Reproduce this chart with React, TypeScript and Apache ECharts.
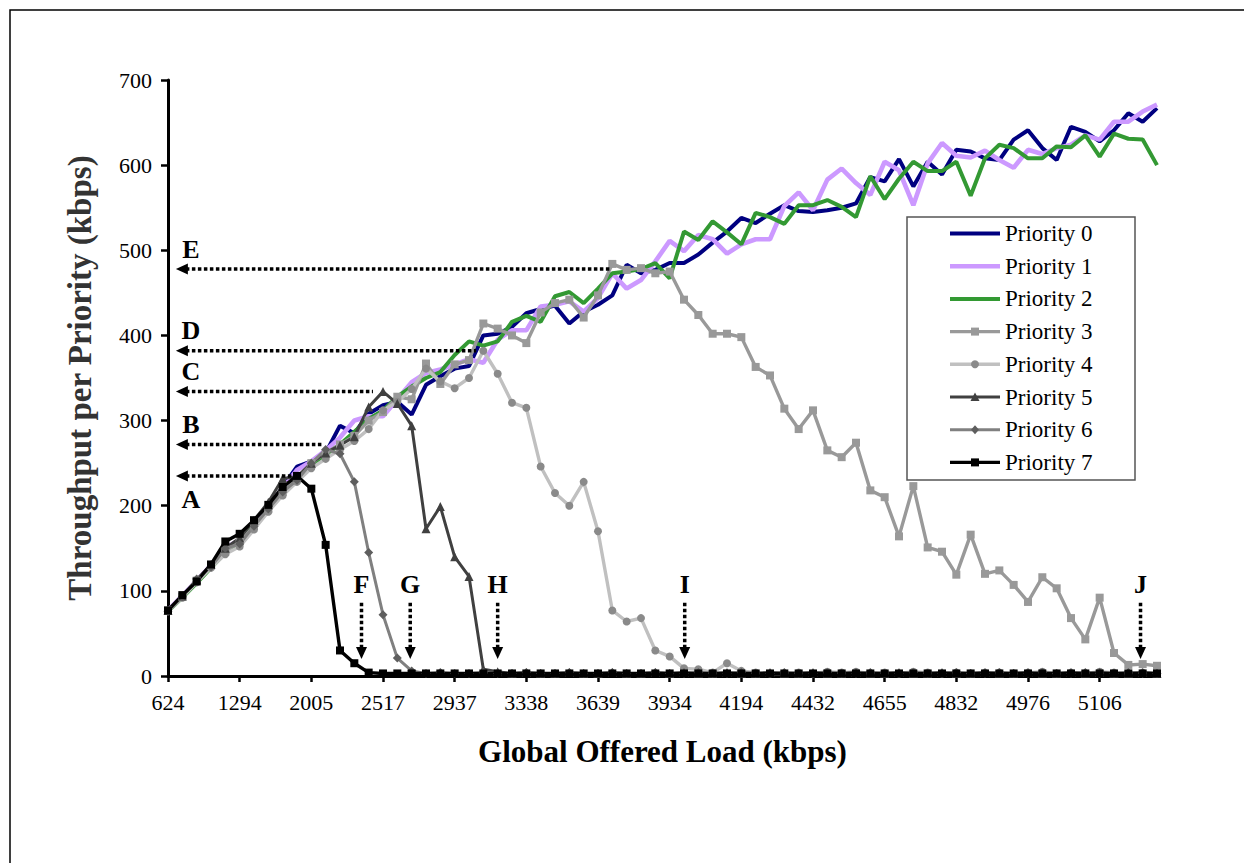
import React, { useEffect, useRef } from 'react';
import * as echarts from 'echarts';

const FONT = 'Liberation Serif';

const tickLabels = ['624', '1294', '2005', '2517', '2937', '3338', '3639', '3934', '4194', '4432', '4655', '4832', '4976', '5106'];
const categories: string[] = Array.from({ length: 70 }, (_, i) => String(i));

const priority0 = [
  77, 93, 111, 129, 147, 160, 178, 197, 222, 246,
  252, 262, 294, 285, 308, 318, 322, 307, 342, 352,
  361, 364, 400, 402, 410, 426, 431, 435, 414, 428,
  436, 447, 483, 473, 477, 485, 485, 495, 509, 522,
  538, 532, 543, 553, 546, 545, 547, 550, 555, 586,
  581, 607, 575, 604, 589, 618, 616, 608, 606, 630,
  641, 620, 606, 645, 639, 628, 641, 661, 651, 667,
];
const priority1 = [
  77, 94, 112, 130, 150, 160, 180, 200, 220, 242,
  252, 265, 280, 300, 305, 305, 325, 345, 356, 360,
  366, 372, 368, 395, 406, 406, 434, 436, 440, 428,
  444, 473, 455, 465, 487, 511, 499, 518, 513, 496,
  507, 513, 513, 552, 568, 547, 583, 596, 579, 565,
  604, 594, 553, 602, 626, 611, 609, 617, 606, 597,
  618, 613, 620, 624, 635, 630, 651, 651, 663, 671,
];
const priority2 = [
  76, 92, 109, 127, 145, 158, 176, 195, 214, 232,
  248, 260, 272, 287, 302, 312, 328, 340, 350, 357,
  377, 393, 388, 393, 416, 423, 416, 446, 451, 438,
  455, 473, 475, 478, 485, 467, 522, 512, 534, 521,
  507, 544, 539, 531, 553, 553, 559, 551, 539, 587,
  560, 584, 604, 593, 593, 604, 564, 608, 624, 620,
  608, 608, 622, 621, 635, 610, 637, 631, 630, 600,
];
const priority3 = [
  77, 93, 112, 130, 146, 158, 176, 196, 216, 232,
  250, 262, 272, 282, 300, 310, 328, 325, 367, 343,
  366, 371, 414, 408, 400, 391, 427, 438, 442, 421,
  447, 484, 477, 479, 473, 475, 442, 424, 402, 402,
  398, 363, 353, 314, 290, 312, 265, 257, 274, 218,
  210, 164, 223, 151, 146, 119, 166, 120, 124, 107,
  87, 116, 103, 68, 43, 92, 27, 13, 14, 12,
];
const priority4 = [
  76, 92, 110, 127, 143, 152, 172, 193, 212, 228,
  244, 255, 266, 276, 290, 312, 322, 337, 361, 346,
  338, 350, 382, 355, 321, 315, 246, 215, 200, 228,
  170, 77, 64, 68, 30, 23, 9, 8, 4, 15,
  6, 4, 3, 3, 4, 3, 5, 4, 5, 3,
  4, 3, 5, 4, 3, 4, 3, 4, 4, 3,
  4, 5, 3, 4, 3, 5, 4, 3, 4, 3,
];
const priority5 = [
  77, 94, 113, 131, 150, 162, 183, 204, 232, 234,
  250, 262, 271, 281, 316, 334, 320, 294, 173, 199,
  140, 117, 8, 5, 3, 4, 3, 3, 4, 3,
  3, 4, 3, 3, 4, 3, 4, 3, 3, 4,
  3, 3, 4, 3, 3, 4, 3, 3, 4, 3,
  3, 4, 3, 3, 4, 3, 3, 4, 3, 3,
  4, 3, 3, 4, 3, 4, 3, 3, 4, 3,
];
const priority6 = [
  76, 93, 114, 128, 150, 155, 176, 196, 216, 230,
  250, 266, 261, 228, 145, 72, 21, 6, 3, 4,
  3, 3, 4, 3, 3, 4, 3, 3, 4, 3,
  3, 4, 3, 3, 4, 3, 3, 4, 3, 3,
  4, 3, 3, 4, 3, 3, 4, 3, 3, 4,
  3, 3, 4, 3, 3, 4, 3, 3, 4, 3,
  3, 4, 3, 3, 4, 3, 3, 4, 3, 3,
];
const priority7 = [
  77, 95, 111, 131, 158, 167, 183, 201, 222, 235,
  220, 154, 30, 15, 4, 3, 3, 3, 3, 3,
  3, 3, 3, 3, 3, 3, 3, 3, 3, 3,
  3, 3, 3, 3, 3, 3, 3, 3, 3, 3,
  3, 3, 3, 3, 3, 3, 3, 3, 3, 3,
  3, 3, 3, 3, 3, 3, 3, 3, 3, 3,
  3, 3, 3, 3, 3, 3, 3, 3, 3, 3,
];

const seriesNames = ['Priority 0', 'Priority 1', 'Priority 2', 'Priority 3', 'Priority 4', 'Priority 5', 'Priority 6', 'Priority 7'];
const seriesData = [priority0, priority1, priority2, priority3, priority4, priority5, priority6, priority7];

// annotation arrows: horizontal (value level, start category position) and vertical (category position)
const hArrows = [
  { label: 'A', value: 235, from: 8.7, below: true },
  { label: 'B', value: 272, from: 10.8, below: false },
  { label: 'C', value: 334, from: 14.3, below: false },
  { label: 'D', value: 382, from: 21.5, below: false },
  { label: 'E', value: 478, from: 30.8, below: false },
];
const vArrows = [
  { label: 'F', at: 13.5 },
  { label: 'G', at: 16.9 },
  { label: 'H', at: 23.0 },
  { label: 'I', at: 36.05 },
  { label: 'J', at: 67.85 },
];

const styles = [
  { line: '#000080', width: 4, symbol: 'none', mark: '#000080', size: 0 },
  { line: '#cc99ff', width: 4.6, symbol: 'none', mark: '#cc99ff', size: 0 },
  { line: '#339933', width: 4, symbol: 'none', mark: '#339933', size: 0 },
  { line: '#999999', width: 3.4, symbol: 'rect', mark: '#999999', size: 8 },
  { line: '#c0c0c0', width: 3.4, symbol: 'circle', mark: '#8a8a8a', size: 8 },
  { line: '#404040', width: 3, symbol: 'triangle', mark: '#404040', size: 9 },
  { line: '#808080', width: 3, symbol: 'diamond', mark: '#5e5e5e', size: 9 },
  { line: '#000000', width: 3.4, symbol: 'rect', mark: '#000000', size: 8 },
];

// legend box geometry (pixels)
const LEG = { x: 907, y: 217, w: 228, h: 263, firstRow: 233.5, rowGap: 32.7, iconX: 950, iconW: 50, textX: 1005 };

export default function App() {
  const ref = useRef<HTMLDivElement>(null);
  useEffect(() => {
    if (!ref.current) return;
    const chart = echarts.init(ref.current, null, { renderer: 'svg' });
    const axisLineStyle = { color: '#000', width: 3 };
    chart.setOption({
      animation: false,
      backgroundColor: '#fff',
      textStyle: { fontFamily: FONT },
      grid: { left: 168, top: 80, right: 87, bottom: 187, outerBoundsMode: 'none' },
      legend: { show: false },
      xAxis: {
        type: 'category',
        data: categories,
        boundaryGap: false,
        axisLine: { lineStyle: axisLineStyle },
        axisTick: { interval: 4, length: 6, lineStyle: { color: '#000', width: 2.5 } },
        axisLabel: {
          interval: 4,
          margin: 15,
          color: '#000',
          fontFamily: FONT,
          fontSize: 22,
          formatter: (_v: string, i: number) => (i % 5 === 0 ? tickLabels[i / 5] : ''),
        },
        splitLine: { show: false },
        name: 'Global Offered Load (kbps)',
        nameLocation: 'middle',
        nameGap: 60,
        nameTextStyle: { fontFamily: FONT, fontSize: 31, fontWeight: 'bold', color: '#000' },
      },
      yAxis: {
        type: 'value',
        min: 0,
        max: 700,
        interval: 100,
        axisLine: { show: true, lineStyle: axisLineStyle },
        axisTick: { show: true, length: 7, lineStyle: { color: '#000', width: 2.5 } },
        axisLabel: { margin: 16, color: '#000', fontFamily: FONT, fontSize: 22 },
        splitLine: { show: false },
        name: 'Throughput per Priority (kbps)',
        nameLocation: 'middle',
        nameGap: 72,
        nameTextStyle: { fontFamily: FONT, fontSize: 33, fontWeight: 'bold', color: '#333' },
      },
      series: seriesNames.map((name, k) => ({
        name,
        type: 'line',
        data: seriesData[k],
        symbol: styles[k].symbol,
        symbolSize: styles[k].size,
        showAllSymbol: true,
        lineStyle: { color: styles[k].line, width: styles[k].width },
        itemStyle: { color: styles[k].mark, borderWidth: 0 },
        emphasis: { disabled: true },
        silent: true,
      })),
    });

    const pt = (f: number, v: number) => {
      const i0 = Math.max(0, Math.min(68, Math.floor(f)));
      const a = chart.convertToPixel({ xAxisIndex: 0, yAxisIndex: 0 }, [i0, v]) as number[];
      const b = chart.convertToPixel({ xAxisIndex: 0, yAxisIndex: 0 }, [i0 + 1, v]) as number[];
      return [a[0] + (f - i0) * (b[0] - a[0]), a[1]];
    };
    const dot = { stroke: '#000', lineWidth: 3.5, lineDash: [3.5, 2.5] };
    const letterFont = 'bold 26px "Liberation Serif", serif';
    const graphics: any[] = [
      { type: 'rect', shape: { x: 10, y: 10, width: 1400, height: 1000 }, style: { fill: 'none', stroke: '#000', lineWidth: 1.5 }, silent: true },
    ];
    hArrows.forEach((h) => {
      const tip = pt(0.55, h.value);
      const end = pt(h.from, h.value);
      const y = tip[1];
      graphics.push({ type: 'line', shape: { x1: tip[0] + 10, y1: y, x2: end[0], y2: y }, style: dot, z: 50 });
      graphics.push({ type: 'polygon', shape: { points: [[tip[0], y], [tip[0] + 12, y - 5.5], [tip[0] + 12, y + 5.5]] }, style: { fill: '#000' }, z: 50 });
      graphics.push({
        type: 'text', x: tip[0] + 15, y: h.below ? y + 24 : y - 20, z: 50,
        style: { text: h.label, font: letterFont, fill: '#000', align: 'center', verticalAlign: 'middle', textAlign: 'center', textVerticalAlign: 'middle' },
      });
    });
    vArrows.forEach((a) => {
      const tip = pt(a.at, 20);
      const top = pt(a.at, 86);
      const lab = pt(a.at, 107);
      const x = tip[0];
      graphics.push({ type: 'line', shape: { x1: x, y1: top[1], x2: x, y2: tip[1] - 10 }, style: dot, z: 50 });
      graphics.push({ type: 'polygon', shape: { points: [[x, tip[1]], [x - 5.5, tip[1] - 12], [x + 5.5, tip[1] - 12]] }, style: { fill: '#000' }, z: 50 });
      graphics.push({
        type: 'text', x, y: lab[1], z: 50,
        style: { text: a.label, font: letterFont, fill: '#000', align: 'center', verticalAlign: 'middle', textAlign: 'center', textVerticalAlign: 'middle' },
      });
    });

    // legend drawn as graphic elements
    graphics.push({
      type: 'rect', z: 60,
      shape: { x: LEG.x, y: LEG.y, width: LEG.w, height: LEG.h },
      style: { fill: '#fff', stroke: '#555', lineWidth: 1.5 },
    });
    seriesNames.forEach((name, k) => {
      const s = styles[k];
      const cy = LEG.firstRow + k * LEG.rowGap;
      const cx = LEG.iconX + LEG.iconW / 2;
      graphics.push({
        type: 'line', z: 61,
        shape: { x1: LEG.iconX, y1: cy, x2: LEG.iconX + LEG.iconW, y2: cy },
        style: { stroke: s.line, lineWidth: s.width },
      });
      const r = 4;
      if (s.symbol === 'rect') {
        graphics.push({ type: 'rect', z: 62, shape: { x: cx - r, y: cy - r, width: 2 * r, height: 2 * r }, style: { fill: s.mark } });
      } else if (s.symbol === 'circle') {
        graphics.push({ type: 'circle', z: 62, shape: { cx, cy, r }, style: { fill: s.mark } });
      } else if (s.symbol === 'triangle') {
        graphics.push({ type: 'polygon', z: 62, shape: { points: [[cx, cy - 4.5], [cx + 4.5, cy + 4], [cx - 4.5, cy + 4]] }, style: { fill: s.mark } });
      } else if (s.symbol === 'diamond') {
        graphics.push({ type: 'polygon', z: 62, shape: { points: [[cx, cy - 4.5], [cx + 4, cy], [cx, cy + 4.5], [cx - 4, cy]] }, style: { fill: s.mark } });
      }
      graphics.push({
        type: 'text', z: 62, x: LEG.textX, y: cy,
        style: { text: name, font: '23px "Liberation Serif", serif', fill: '#000', align: 'left', verticalAlign: 'middle', textAlign: 'left', textVerticalAlign: 'middle' },
      });
    });
    chart.setOption({ graphic: graphics });

    return () => chart.dispose();
  }, []);
  return <div ref={ref} style={{ position: 'absolute', left: 0, top: 0, width: 1244, height: 863 }} />;
}
